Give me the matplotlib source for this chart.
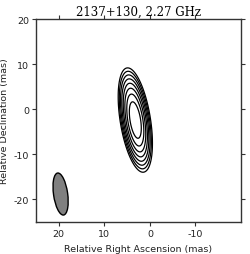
import numpy as np
import matplotlib
matplotlib.use('Agg')
import matplotlib.pyplot as plt
from matplotlib.patches import Ellipse

plt.rcParams['axes.unicode_minus'] = False

# source model (Gaussian component), positions in mas
src_ra = 3.2
src_dec = -2.4
src_sigma_major = 3.52
src_sigma_minor = 1.0
src_pa = 9.0  # deg, east of north
peak = 1.0
levels = [0.004, 0.008, 0.016, 0.032, 0.064, 0.128, 0.255, 0.51]

# restoring beam
beam_ra = 19.6
beam_dec = -18.8
beam_major = 9.4
beam_minor = 3.1
beam_pa = 8.0

xlim = (25, -20)
ylim = (-25, 20)
xticks = [20, 10, 0, -10]
yticks = [20, 10, 0, -10, -20]

ra = np.linspace(-20, 25, 450)
dec = np.linspace(-25, 20, 450)
X, Y = np.meshgrid(ra, dec)
dx = X - src_ra
dy = Y - src_dec
t = np.radians(src_pa)
u = dx * np.sin(t) + dy * np.cos(t)
v = dx * np.cos(t) - dy * np.sin(t)
Z = peak * np.exp(-0.5 * (u / src_sigma_major) ** 2 - 0.5 * (v / src_sigma_minor) ** 2)

fig = plt.figure(figsize=(2.5, 2.55), dpi=100)
ax = fig.add_axes([0.144, 0.1255, 0.82, 0.796])

ax.contour(X, Y, Z, levels=levels, colors='black', linewidths=0.9)

beam = Ellipse((beam_ra, beam_dec), width=beam_minor, height=beam_major,
               angle=-beam_pa, facecolor='#808080', edgecolor='black', lw=1.0)
ax.add_patch(beam)

ax.set_xlim(*xlim)
ax.set_ylim(*ylim)
ax.set_xticks(xticks)
ax.set_yticks(yticks)
ax.tick_params(direction='out', length=3, labelsize=6.8, top=True, right=True,
               colors='#333333', labelcolor='#222222', width=0.8, pad=2)
for s in ax.spines.values():
    s.set_color('#333333')
    s.set_linewidth(1.0)

ax.set_xlabel('Relative Right Ascension (mas)', fontsize=6.8, color='#222222')
ax.set_ylabel('Relative Declination (mas)', fontsize=6.8, color='#222222')
ax.yaxis.set_label_coords(-0.132, 0.5)
ax.xaxis.set_label_coords(0.5, -0.107)
ax.set_title('2137+130, 2.27 GHz', fontsize=8.5, family='DejaVu Serif', pad=3)

fig.savefig('out.png', dpi=100)
